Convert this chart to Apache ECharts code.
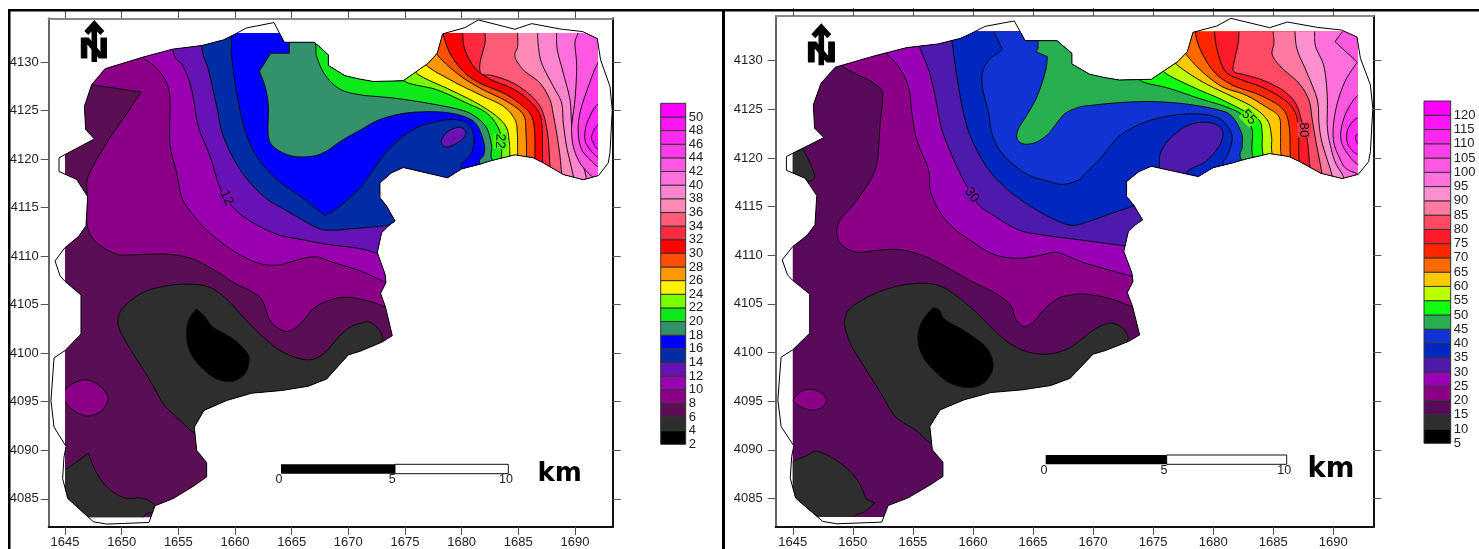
<!DOCTYPE html>
<html><head><meta charset="utf-8">
<style>html,body{margin:0;padding:0;background:#fff}#c{width:1479px;height:549px}</style>
<script src="https://cdn.jsdelivr.net/npm/echarts@6/dist/echarts.min.js"></script>
</head><body><div id="c"></div>
<script>
// Tick labels
const xTicks = [1645,1650,1655,1660,1665,1670,1675,1680,1685,1690];
const yTicks = [4085,4090,4095,4100,4105,4110,4115,4120,4125,4130];
// Legend levels and colours
const leftLevels = [2,4,6,8,10,12,14,16,18,20,22,24,26,28,30,32,34,36,38,40,42,44,46,48,50];
const leftColors = ['#000000','#2e2e2e','#5a0f55','#8b0087','#9a00b0','#6712b5','#002da3','#0000ff','#33926b','#0ee91a','#77ff00','#fff200','#ff9700','#ff4f00','#ff0000','#ff2a3e','#ff5c78','#ff8ab5','#ff85d0','#ff70dd','#ff57e0','#ff3ae8','#ff2af0','#ff16f5','#ff00ff'];
const rightLevels = [5,10,15,20,25,30,35,40,45,50,55,60,65,70,75,80,85,90,95,100,105,110,115,120];
const rightColors = ['#000000','#2e2e2e','#5a0a5a','#8b0087','#9a00b5','#4d1aad','#0028c0','#1233d4','#28b050','#10ff10','#bbff00','#ffc800','#ff6a00','#ff2600','#ff1a2a','#ff4a64','#ff7aa0','#ff90d0','#ff70dc','#ff58e0','#ff40e8','#ff28f0','#ff14f5','#ff00ff'];

// Survey boundary (km grid)
const outline = [[1648.53,4129.32],[1651.85,4130.51],[1654.5,4131.34],[1657.06,4131.71],[1658.97,4132.29],[1659.71,4132.71],[1661.03,4133.53],[1663.44,4134.08],[1664.35,4132.05],[1667,4132.05],[1668.24,4130.75],[1668.24,4129.66],[1669.71,4128.6],[1671.03,4128.25],[1672.2,4128.01],[1674.85,4128.08],[1677.06,4129.9],[1677.85,4130.92],[1678.32,4132.91],[1680.29,4133.56],[1681.47,4134.35],[1684.7,4133.39],[1686.18,4133.97],[1688.68,4133.42],[1690.68,4133.15],[1691.97,4132.43],[1692.26,4130.24],[1693.09,4127.5],[1693.29,4125.1],[1693.09,4120.65],[1692.94,4119.62],[1692.09,4118.32],[1690.74,4117.88],[1688.97,4118.42],[1687.2,4119.62],[1686.32,4120.14],[1684.7,4120.45],[1682.65,4119.86],[1681.62,4119.49],[1680,4119],[1678.76,4118.08],[1674.85,4119.14],[1673.82,4118.6],[1672.79,4117.57],[1672.79,4116.03],[1673.38,4115.17],[1674.12,4113.63],[1673.53,4113.12],[1672.94,4112.43],[1672.56,4110.38],[1673.24,4108.15],[1673.32,4107.29],[1672.85,4106.16],[1673.29,4104.72],[1673.88,4101.81],[1672.94,4101.13],[1671.03,4100.2],[1670,4099.83],[1668.09,4097.35],[1666.47,4096.6],[1664.12,4096.16],[1661.47,4095.88],[1659.26,4095.13],[1657.26,4094.1],[1656.41,4092.39],[1656.62,4090],[1657.5,4088.72],[1657.5,4087.25],[1656.32,4086.29],[1654.56,4085.03],[1652.94,4084.27],[1652.41,4082.56],[1648.68,4082.39],[1647.5,4082.63],[1645.24,4085.03],[1644.79,4087.08],[1644.91,4089.3],[1645.09,4090.4],[1644.03,4092.39],[1643.76,4095.13],[1644.03,4099.52],[1645,4100.27],[1646.41,4101.98],[1646.41,4106],[1645,4107.4],[1644.56,4107.98],[1644.12,4109.52],[1645,4110.89],[1646.18,4112.02],[1646.85,4113.12],[1647,4116.13],[1646.03,4117.91],[1644.47,4118.73],[1644.47,4120.14],[1645,4120.48],[1647.59,4122.09],[1646.82,4123.05],[1646.71,4125.45],[1647.35,4127.67]];

// Left map contours; a third entry 1 marks a sharp corner
const a8 = [[1647.35,4127.67,1],[1651.71,4126.92,1],[1650.29,4124.42],[1648.68,4121.68],[1647.06,4118.25],[1646.97,4116.2],[1646.97,4113.12],[1647.79,4111.4],[1649.56,4110.21],[1651.03,4110.14],[1653.97,4110.21],[1656.32,4109.69],[1658.53,4108.32],[1659.85,4107.29],[1662.21,4105.75],[1663.09,4103.36],[1664.41,4102.26],[1665.59,4102.84],[1667.06,4104.73],[1668.68,4105.58],[1670.15,4105.75],[1672.21,4105.24],[1673.29,4104.73],[1674.26,4104.38,1],[1710,4105.58,1],[1710,4138,1],[1646,4138,1],[1646.5,4127.9,1]];
const a10 = [[1651.5,4131.5,1],[1651.85,4130.51],[1653.09,4129.38],[1653.97,4127.84],[1654.26,4126.13],[1654.26,4121.68],[1654.85,4118.6],[1655.38,4115.86],[1656.62,4113.8],[1658.09,4112.09],[1659.85,4110.55],[1661.91,4109.35],[1663.68,4109.08],[1665.74,4109.69],[1666.76,4109.93],[1667.5,4109.86],[1668.68,4109.35],[1671.03,4108.49],[1673.32,4107.29],[1674.26,4106.95,1],[1710,4106.95,1],[1710,4138,1],[1651.5,4138,1]];
const a12 = [[1654.2,4138,1],[1654.5,4131.34],[1655.44,4129.55],[1656.18,4127.16],[1656.76,4123.39],[1657.79,4120.31],[1658.68,4117.05],[1659.71,4115.17],[1661.32,4113.63],[1663.68,4112.26],[1665.74,4111.75],[1668.09,4111.23],[1671.03,4110.79],[1672.65,4110.27],[1673.68,4110.03,1],[1710,4110.03,1],[1710,4138,1]];
const a14 = [[1657,4138,1],[1657.06,4131.71],[1657.65,4129.21],[1658.38,4125.45],[1658.97,4122.36],[1660.44,4118.94],[1662.5,4116.2],[1664.85,4114.49],[1667.21,4112.95],[1668.53,4112.67],[1670.44,4112.84],[1673.62,4113.18],[1674.56,4113.46,1],[1710,4113.46,1],[1710,4138,1]];
const a16 = [[1659.71,4138,1],[1659.71,4132.71],[1659.71,4130.58],[1660.15,4126.82],[1660.88,4123.05],[1661.91,4120.31],[1663.68,4117.91],[1665.74,4116.2],[1667.65,4114.49],[1668.09,4114.32],[1669.26,4115.17],[1671.03,4117.05],[1671.91,4118.42],[1673.38,4120.82],[1674.85,4122.36],[1676.32,4123.39],[1678.38,4124.01],[1679.85,4124.01],[1680.74,4123.39],[1681.09,4122.19],[1680.88,4120.65],[1680,4119.01],[1682.79,4117.23,1],[1710,4117.23,1],[1710,4138,1]];
const a18 = [[1664.79,4134.35,1],[1664.79,4132.05,1],[1664.79,4130.92,1],[1663.15,4130.92,1],[1662.15,4129.04,1],[1662.65,4127.5],[1662.94,4125.45],[1662.94,4122.36],[1663.53,4121.16],[1664.85,4120.38],[1666.32,4120.24],[1667.79,4120.65],[1669.56,4122.02],[1671.03,4122.98],[1672.79,4124.08],[1675.15,4124.76],[1678.09,4124.86],[1680.15,4124.42],[1681.32,4123.56],[1681.97,4121.68],[1681.97,4120.48],[1681.62,4119.49],[1683.38,4117.23,1],[1710,4117.23,1],[1710,4134.35,1]];
const a20 = [[1666.76,4133.32,1],[1667.12,4131.78],[1667.21,4130.58],[1667.94,4128.7],[1669.26,4127.23],[1671.03,4126.64],[1673.97,4126.3],[1676.91,4125.79],[1679.85,4125.1],[1681.18,4124.42],[1682.21,4123.22],[1682.65,4121.34],[1682.71,4119.9],[1684.26,4117.23,1],[1710,4117.23,1],[1710,4133.32,1]];
const a22 = [[1674.56,4134.35,1],[1674.56,4129.55,1],[1675,4128.01],[1677.79,4127.16],[1680.44,4125.79],[1682.21,4124.76],[1683.24,4123.22],[1683.53,4121.68],[1683.53,4120.14],[1683.68,4117.23,1],[1710,4117.23,1],[1710,4134.35,1]];
const a24 = [[1675.74,4134.35,1],[1675.74,4130.24,1],[1676.09,4128.8],[1678.97,4127.16],[1681.32,4125.79],[1683.09,4124.42],[1683.97,4123.22],[1684.21,4121.68],[1684.26,4120.45],[1684.4,4117.23,1],[1710,4117.23,1],[1710,4134.35,1]];
const a26 = [[1676.62,4134.35,1],[1676.62,4131.27,1],[1676.85,4129.73],[1679.26,4128.01],[1681.62,4126.64],[1683.68,4125.45],[1684.7,4124.08],[1684.91,4122.71],[1684.94,4120.45],[1685,4117.23,1],[1710,4117.23,1],[1710,4134.35,1]];
const a28 = [[1677.5,4134.35,1],[1677.5,4132.29,1],[1677.79,4130.86],[1679.56,4128.87],[1681.62,4127.33],[1683.97,4125.96],[1685.44,4124.59],[1685.68,4122.71],[1685.74,4120.24],[1685.9,4117.23,1],[1710,4117.23,1],[1710,4134.35,1]];
const a30 = [[1678.38,4134.35,1],[1678.38,4132.91],[1678.97,4130.92],[1680.15,4129.04],[1681.62,4127.84],[1683.97,4126.64],[1685.74,4125.1],[1686.32,4123.9],[1686.47,4122.02],[1686.47,4120.03],[1686.6,4117.23,1],[1710,4117.23,1],[1710,4134.35,1]];
const a32 = [[1680.09,4134.35,1],[1680.09,4132.98],[1680.29,4131.27],[1681.18,4129.38],[1682.5,4128.25],[1684.56,4127.23],[1686.03,4125.96],[1686.91,4124.59],[1687.12,4122.71],[1687.15,4119.62],[1687.35,4117.23,1],[1710,4117.23,1],[1710,4134.35,1]];
const a34 = [[1682.06,4134.35,1],[1682.06,4132.98],[1682.06,4131.95],[1681.62,4129.9],[1681.76,4128.8],[1682.79,4128.6],[1684.56,4127.84],[1686.03,4126.64],[1686.91,4125.45],[1687.35,4124.08],[1687.65,4122.02],[1687.79,4119.45],[1688.09,4117.23,1],[1710,4117.23,1],[1710,4134.35,1]];
const a36 = [[1684.94,4134.35,1],[1684.94,4132.98],[1684.94,4131.61],[1684.7,4130.58],[1685.44,4129.21],[1686.91,4127.84],[1687.79,4126.13],[1688.09,4124.59],[1688.38,4122.71],[1688.68,4120.31],[1688.82,4118.6],[1689.12,4115.86,1],[1710,4115.86,1],[1710,4134.35,1]];
const a38 = [[1686.71,4134.35,1],[1686.71,4132.98],[1686.76,4131.78],[1687.06,4129.9],[1688.09,4127.5],[1688.82,4125.79],[1688.97,4123.73],[1689.26,4121.34],[1689.85,4118.25],[1690.15,4115.86,1],[1710,4115.86,1],[1710,4134.35,1]];
const a40 = [[1688.38,4134.35,1],[1688.38,4132.98],[1688.44,4131.27],[1688.97,4128.87],[1689.56,4126.13],[1689.71,4123.73],[1690.15,4121.34],[1690.74,4119.28],[1691.03,4117.88],[1691.32,4115.86,1],[1710,4115.86,1],[1710,4134.35,1]];
const a42 = [[1690.24,4134.35,1],[1690.24,4132.98],[1690,4131.95],[1690.15,4129.55],[1690,4126.13],[1689.71,4123.39],[1689.85,4121.34],[1690.44,4119.62],[1691.47,4118.25],[1692.21,4117.91],[1693.68,4117.23,1],[1710,4117.23,1],[1710,4134.35,1]];
const a44 = [[1693.68,4132.98,1],[1692.06,4130],[1691.18,4127.5],[1690.44,4124.76],[1690.29,4122.71],[1690.59,4120.99],[1691.47,4119.79],[1692.06,4119.21],[1693.68,4118.25,1]];
const a46 = [[1693.68,4126.47,1],[1692.06,4125.72],[1691.18,4124.08],[1690.88,4122.71],[1691.03,4121.5],[1692.06,4120.14],[1693.68,4119.28,1]];
const a48 = [[1693.68,4124.42,1],[1692.06,4123.56],[1691.47,4122.36],[1691.62,4121.68],[1692.06,4121.03],[1693.68,4120.3,1]];
const aIsland = [[1678.24,4122.02],[1678.82,4122.88],[1679.85,4123.29],[1680.38,4122.71],[1679.85,4121.85],[1678.82,4121.27],[1678.32,4121.44]];
const aLow6 = [[1649.71,4103.7],[1650.29,4104.9],[1651.91,4106.27],[1653.97,4106.95],[1656.03,4107.12],[1657.79,4106.78],[1659.26,4105.58],[1660.74,4103.7],[1662.5,4101.64],[1664.26,4100.1],[1666.32,4099.32],[1667.79,4099.93],[1669.26,4101.82],[1670.15,4102.67],[1671.03,4103.08],[1671.91,4103.18],[1672.79,4102.33],[1673.03,4101.37],[1672.94,4100.96],[1674.56,4097.88,1],[1674.56,4091.03,1],[1658.09,4091.03,1],[1656.91,4092.05,1],[1656.41,4091.78],[1654.85,4093.42],[1653.68,4094.8],[1652.5,4097.19],[1651.03,4099.93],[1649.85,4102.33]];
const aLow4 = [[1656.62,4104.55,1],[1657.26,4103.87],[1658.09,4102.67],[1659.85,4101.47],[1661.03,4100.1],[1661.24,4099.08],[1660.74,4097.71],[1659.56,4097.09],[1658.09,4097.53],[1656.62,4099.08],[1655.88,4100.62],[1655.74,4102.33],[1656.03,4103.7]];
const aWest = [[1644.85,4095.65],[1645.29,4096.58],[1646.62,4097.26],[1647.79,4096.85],[1648.68,4095.82],[1648.74,4094.97],[1648.09,4093.94],[1646.91,4093.53],[1645.74,4094.11],[1645.06,4094.97]];
const aSouth = [[1644.56,4087.95,1],[1645,4088.01],[1646.03,4088.8],[1647.06,4089.73,1],[1647.65,4087.95],[1648.68,4086.23],[1650.15,4085.14],[1651.91,4085.03],[1652.94,4084.28],[1652.79,4083.66],[1651.97,4083.15],[1651.97,4080.5,1],[1644.56,4080.5,1]];

// Right map contours
const b20 = [[1648.81,4138,1],[1648.81,4131.1,1],[1649.08,4129.49],[1651.31,4128.01],[1652.28,4127.16],[1652.5,4126.3],[1652.28,4123.56],[1652,4119.45],[1651.31,4117.4],[1649.92,4115],[1648.94,4113.63],[1648.67,4112.26],[1649.08,4111.06],[1650.33,4110.31],[1652.42,4110.55],[1654.08,4110.55],[1656.03,4109.86],[1657.69,4108.84],[1658.94,4107.98],[1659.92,4107.29],[1661.86,4106.1],[1663.11,4104.9],[1663.53,4103.53],[1664.22,4102.67],[1665.06,4103.18],[1666.03,4104.55],[1667.14,4105.58],[1668.25,4105.93],[1669.36,4106],[1671.31,4105.58],[1673.25,4104.73],[1674.36,4104.4,1],[1712,4104.4,1],[1712,4138,1]];
const b25 = [[1652.42,4138,1],[1652.42,4132.12,1],[1652.78,4130.82],[1653.81,4129.38],[1654.64,4127.33],[1654.92,4124.59],[1655.33,4121.85],[1656.31,4118.77],[1656.44,4116.71],[1657.14,4114.66],[1658.25,4112.95],[1659.92,4111.4],[1661.86,4110.03],[1663.81,4109.69],[1665.75,4110.03],[1666.86,4110.31],[1667.97,4109.86],[1669.36,4109.18],[1671.31,4108.49],[1673.11,4107.88],[1674.36,4107.47,1],[1712,4107.47,1],[1712,4138,1]];
const b30 = [[1655.33,4138,1],[1655.33,4132.81,1],[1655.53,4131.44],[1656.31,4129.04],[1656.86,4126.3],[1657.42,4122.88],[1658.53,4119.45],[1659.5,4117.05],[1660.47,4115.17],[1661.86,4113.97],[1663.81,4112.6],[1665.75,4112.09],[1669.36,4111.5],[1672.64,4110.96],[1674.36,4110.72,1],[1712,4110.72,1],[1712,4138,1]];
const b35 = [[1658.25,4138,1],[1658.25,4133.49,1],[1658.25,4132.12],[1658.67,4128.36],[1659.22,4124.59],[1659.92,4121.85],[1661.31,4118.77],[1663.25,4116.37],[1665.75,4114.32],[1667.97,4113.12],[1669.36,4113.36],[1671.58,4114.32],[1673.47,4115.1],[1674.64,4115.58,1],[1712,4115.58,1],[1712,4138,1]];
const b40 = [[1661.72,4138,1],[1661.72,4133.05,1],[1662.42,4131.27,1],[1662.28,4130.92],[1661.31,4130.07],[1660.75,4128.53],[1660.89,4126.64],[1661.31,4124.59],[1661.58,4122.53],[1662.42,4120.48],[1664.36,4118.42],[1666.31,4117.57],[1667.56,4117.29],[1668.81,4117.74],[1669.36,4118.42],[1670.75,4120.14],[1672.14,4122.19],[1674.08,4123.56],[1676.31,4124.32],[1678.81,4124.52],[1680.47,4124.08],[1681.31,4123.05],[1681.58,4121.85],[1681.17,4120.14],[1680.97,4119.28],[1683.81,4116.71,1],[1712,4116.71,1],[1712,4138,1]];
const b45 = [[1665.42,4134.18,1],[1665.42,4132.05,1],[1665.42,4131.27,1],[1665.25,4130.92,1],[1666.19,4130.41,1],[1666.03,4128.87],[1665.33,4126.3],[1664.5,4124.42],[1663.81,4123.05],[1663.67,4122.02],[1664.22,4121.44],[1665.19,4121.58],[1666.17,4122.36],[1666.86,4123.39],[1667.69,4124.59],[1668.81,4125.21],[1669.36,4125.34],[1672.14,4125.68],[1674.92,4125.79],[1677.69,4125.55],[1680.47,4124.93],[1681.58,4124.25],[1682.36,4122.53],[1682.42,4121.16],[1682.36,4119.79],[1684.36,4116.71,1],[1712,4116.71,1],[1712,4134.18,1]];
const b50 = [[1673.53,4134.18,1],[1673.53,4129.38,1],[1673.94,4127.95],[1676.31,4127.16],[1678.81,4126.13],[1681.03,4125.27],[1682.42,4124.42],[1683.25,4122.88],[1683.33,4120.07],[1684.92,4116.71,1],[1712,4116.71,1],[1712,4134.18,1]];
const b55 = [[1675.47,4134.18,1],[1675.47,4130.07,1],[1675.97,4128.77],[1678.53,4127.16],[1680.47,4126.13],[1682.42,4124.93],[1683.81,4123.9],[1684.08,4122.53],[1684.17,4120.27],[1685.19,4116.71,1],[1712,4116.71,1],[1712,4134.18,1]];
const b60 = [[1676.31,4134.18,1],[1676.31,4131.1,1],[1676.92,4129.66],[1679.08,4127.84],[1681.31,4126.47],[1683.25,4125.27],[1684.5,4123.9],[1684.86,4122.19],[1684.92,4120.38],[1685.75,4116.71,1],[1712,4116.71,1],[1712,4134.18,1]];
const b65 = [[1677.14,4134.18,1],[1677.14,4132.12,1],[1677.69,4130.75],[1679.08,4128.87],[1680.75,4127.33],[1682.69,4126.47],[1684.36,4125.27],[1685.47,4124.25],[1685.61,4122.53],[1685.67,4120.21],[1686.3,4116.71,1],[1712,4116.71,1],[1712,4134.18,1]];
const b70 = [[1678.53,4134.18,1],[1678.53,4132.81],[1678.94,4131.1],[1680.06,4128.87],[1681.58,4127.5],[1683.53,4126.64],[1685.19,4125.62],[1686.03,4124.59],[1686.36,4122.88],[1686.42,4120.07],[1686.58,4116.71,1],[1712,4116.71,1],[1712,4134.18,1]];
const b75 = [[1680.11,4134.18,1],[1680.11,4132.98],[1680.33,4131.1],[1681.03,4128.87],[1682.42,4128.01],[1684.08,4127.26],[1685.75,4126.13],[1686.72,4124.93],[1687.08,4123.22],[1687.14,4119.79],[1687.28,4116.71,1],[1712,4116.71,1],[1712,4134.18,1]];
const b80 = [[1682.14,4134.18,1],[1682.14,4132.98],[1682.08,4131.78],[1681.72,4129.73],[1681.72,4128.87],[1682.69,4128.53],[1684.08,4128.01],[1685.75,4126.99],[1686.86,4125.62],[1687.42,4123.56],[1687.83,4121.85],[1688.03,4119.28],[1688.25,4116.71,1],[1712,4116.71,1],[1712,4134.18,1]];
const b85 = [[1685,4134.18,1],[1685,4132.98],[1685.06,4131.78],[1684.92,4130.58],[1685.75,4129.21],[1687.14,4127.67],[1687.97,4125.96],[1688.25,4123.9],[1688.53,4121.85],[1689.08,4118.25],[1689.36,4115.68,1],[1712,4115.68,1],[1712,4134.18,1]];
const b90 = [[1686.81,4134.18,1],[1686.81,4132.98],[1687,4131.1],[1687.83,4128.7],[1688.67,4125.96],[1688.81,4123.56],[1689.08,4121.5],[1689.92,4118.08],[1690.19,4115.68,1],[1712,4115.68,1],[1712,4134.18,1]];
const b95 = [[1688.44,4134.18,1],[1688.44,4132.98],[1688.53,4131.44],[1689.22,4129.4],[1689.5,4126.3],[1689.5,4123.22],[1689.78,4121.16],[1690.2,4119.45],[1690.89,4117.91],[1691.2,4115.68,1],[1712,4115.68,1],[1712,4134.18,1]];
const b100 = [[1690.75,4134.18,1],[1690.75,4132.98,1],[1690.14,4131.95,1],[1692,4129.83,1],[1691.03,4128.01],[1690.33,4125.62],[1690,4123.22],[1690.06,4121.5],[1690.47,4120.14],[1691.03,4118.94],[1692.14,4118.25],[1693.5,4117.06,1],[1712,4117.06,1],[1712,4134.18,1]];
const b105 = [[1693.5,4127,1],[1692.08,4126.47],[1691.11,4124.76],[1690.67,4123.05],[1690.67,4121.68],[1691.17,4120.48],[1692.08,4119.28],[1693.5,4118.8,1]];
const b110 = [[1693.5,4124.7,1],[1692.08,4124.18],[1691.31,4123.22],[1691.11,4122.19],[1691.31,4121.16],[1692.08,4120.31],[1693.5,4119.8,1]];
const b115 = [[1693.5,4122.8,1],[1692.08,4122.47],[1691.86,4122.12],[1691.94,4121.68],[1692.08,4121.5],[1693.5,4121.2,1]];
const bIsland = [[1675.53,4118.94],[1675.61,4120.48],[1676.31,4121.85],[1677.69,4123.22],[1679.08,4123.66],[1680.33,4123.39],[1680.81,4122.53],[1680.47,4121.16],[1679.36,4119.62],[1677.69,4118.36],[1677.69,4115.68,1],[1675.53,4115.68,1]];
const bLow10 = [[1649.36,4103.53],[1649.78,4104.55],[1651.31,4105.75],[1653.25,4106.68],[1655.47,4107.12],[1657.14,4106.88],[1658.53,4105.92],[1660.19,4104.21],[1661.86,4102.16],[1663.25,4100.79],[1664.64,4100.03],[1666.17,4099.83],[1667.69,4100.27],[1668.81,4101.13],[1670.06,4102.33],[1671.31,4103.01],[1672.28,4102.67],[1672.92,4101.64],[1672.83,4100.62],[1673.53,4097.71,1],[1673.53,4090.17,1],[1657.69,4090.17,1],[1656.86,4091.54,1],[1656.53,4090.68],[1655.19,4092.05],[1653.53,4093.42],[1652.42,4095.65],[1651.03,4098.39],[1649.92,4100.62],[1649.36,4102.5]];
const bLow5 = [[1656.64,4104.55,1],[1657.19,4104.38],[1657.69,4103.36],[1659.36,4102.16],[1661.03,4100.62],[1661.64,4099.08],[1661.53,4097.88],[1660.75,4096.75],[1659.5,4096.4],[1657.97,4096.95],[1656.58,4098.39],[1655.75,4099.76],[1655.42,4101.47],[1655.75,4103.18]];
const bWest = [[1645.06,4095.14],[1645.61,4095.92],[1646.44,4096.23],[1647.42,4095.82],[1647.78,4095.03],[1647.42,4094.35],[1646.64,4094.08],[1645.89,4094.28],[1645.19,4094.8]];
const bSouth = [[1644.64,4088.63,1],[1646.03,4089.32],[1647.06,4089.83],[1648.53,4088.97],[1649.78,4087.77],[1650.61,4086.4],[1651.08,4084.97,1],[1651.81,4084.52,1],[1651.03,4083.66],[1650.06,4082.98],[1650.06,4080.5,1],[1644.64,4080.5,1]];
const bNorthWest = [[1644.64,4120.41,1],[1645.81,4120.92,1],[1646.31,4119.79],[1646.81,4118.25],[1646.64,4117.74],[1646.17,4117.67],[1645.06,4118.5],[1644.64,4118.5,1]];

// Contour labels: x, y, text, rotation, local fill behind the text
const aLabels = [[1659.26,4116.03,'12',-65,'#800bb2'],[1683.38,4121.85,'22',-92,'#40f40c']];
const bLabels = [[1659.92,4116.2,'30',-55,'#750db1'],[1682.97,4124.18,'55',-45,'#60ff08'],[1687.56,4122.88,'80',-90,'#ff3552']];

const leftBands = [[a8,3],[a10,4],[a12,5],[a14,6],[a16,7],[a18,8],[a20,9],[a22,10],[a24,11],[a26,12],[a28,13],[a30,14],[a32,15],[a34,16],[a36,17],[a38,18],[a40,19],[a42,20],[a44,21],[a46,22],[a48,23],[aIsland,5],[aLow6,1],[aLow4,0],[aWest,3],[aSouth,1]];
const rightBands = [[b20,3],[b25,4],[b30,5],[b35,6],[b40,7],[b45,8],[b50,9],[b55,10],[b60,11],[b65,12],[b70,13],[b75,14],[b80,15],[b85,16],[b90,17],[b95,18],[b100,19],[b105,20],[b110,21],[b115,22],[bIsland,5],[bLow10,1],[bLow5,0],[bWest,3],[bSouth,1],[bNorthWest,1]];

// Clip the boundary to the gridded window with Sutherland-Hodgman
function clipToWindow(pts, x0, x1, y0, y1){
  const edges = [
    [p=>p[0]>=x0,(a,b)=>{const t=(x0-a[0])/(b[0]-a[0]);return [x0,a[1]+t*(b[1]-a[1])];}],
    [p=>p[0]<=x1,(a,b)=>{const t=(x1-a[0])/(b[0]-a[0]);return [x1,a[1]+t*(b[1]-a[1])];}],
    [p=>p[1]>=y0,(a,b)=>{const t=(y0-a[1])/(b[1]-a[1]);return [a[0]+t*(b[0]-a[0]),y0];}],
    [p=>p[1]<=y1,(a,b)=>{const t=(y1-a[1])/(b[1]-a[1]);return [a[0]+t*(b[0]-a[0]),y1];}]
  ];
  let out = pts;
  edges.forEach(([inside,cross])=>{
    const res=[];
    out.forEach((p,i)=>{
      const q=out[(i+1)%out.length];
      if(inside(p)){res.push(p); if(!inside(q)) res.push(cross(p,q));}
      else if(inside(q)) res.push(cross(p,q));
    });
    out=res;
  });
  return out;
}
const gridded = clipToWindow(outline,1645,1692.03,4083.1,4133);

// Smooth a closed contour in screen space; flagged vertices stay sharp
function smoothRing(pts, api){
  const P = pts.map(p=>api.coord([p[0],p[1]]));
  const n = P.length, out = [], tan = [];
  for(let i=0;i<n;i++){
    if(pts[i][2]){tan.push([0,0]);continue;}
    const a=P[(i-1+n)%n], b=P[(i+1)%n];
    tan.push([(b[0]-a[0])/6,(b[1]-a[1])/6]);
  }
  for(let i=0;i<n;i++){
    const j=(i+1)%n, p0=P[i], p3=P[j];
    const c1=[p0[0]+tan[i][0],p0[1]+tan[i][1]], c2=[p3[0]-tan[j][0],p3[1]-tan[j][1]];
    for(let s=0;s<12;s++){
      const t=s/12,u=1-t;
      out.push([u*u*u*p0[0]+3*u*u*t*c1[0]+3*u*t*t*c2[0]+t*t*t*p3[0],
                u*u*u*p0[1]+3*u*u*t*c1[1]+3*u*t*t*c2[1]+t*t*t*p3[1]]);
    }
  }
  return out;
}

function mapSeries(idx, bands, colors, labels){
  const maskItem = (api)=>gridded.map(p=>api.coord(p));
  return [
    {type:'custom',xAxisIndex:idx,yAxisIndex:idx,silent:true,animation:false,z:2,
     data:[[1650,4100]],
     renderItem:(params,api)=>({type:'polygon',shape:{points:maskItem(api)},style:{fill:colors[2],stroke:null}})},
    {type:'custom',xAxisIndex:idx,yAxisIndex:idx,silent:true,animation:false,z:3,
     data:bands.map(b=>[b[0][0][0],b[0][0][1]]),
     renderItem:(params,api)=>{
       const b=bands[params.dataIndex];
       return {type:'polygon',shape:{points:smoothRing(b[0],api)},
         style:{fill:colors[b[1]],stroke:'#0a0a0a',lineWidth:1},
         clipPath:{type:'polygon',shape:{points:maskItem(api)}}};
     }},
    {type:'custom',xAxisIndex:idx,yAxisIndex:idx,silent:true,animation:false,z:4,
     data:[[1650,4100]],
     renderItem:(params,api)=>({type:'polygon',shape:{points:outline.map(p=>api.coord(p))},style:{fill:null,stroke:'#000',lineWidth:1}})},
    {type:'custom',xAxisIndex:idx,yAxisIndex:idx,silent:true,animation:false,z:5,
     data:labels.map(l=>[l[0],l[1]]),
     renderItem:(params,api)=>{
       const l=labels[params.dataIndex], c=api.coord([l[0],l[1]]);
       return {type:'text',x:c[0],y:c[1],rotation:l[3]*Math.PI/180,
         style:{text:l[2],fill:'#111',font:'13.5px "Liberation Sans"',align:'center',verticalAlign:'middle',backgroundColor:l[4]}};
     }}
  ];
}
function legendSeries(idx, levels, colors, step){
  return {type:'custom',xAxisIndex:idx,yAxisIndex:idx,silent:true,animation:false,z:3,
    data:levels.map(v=>[0,v]),
    renderItem:(params,api)=>{
      const v=api.value(1), a=api.coord([0,v+step]), b=api.coord([1,v]);
      return {type:'rect',shape:{x:a[0],y:a[1],width:b[0]-a[0],height:b[1]-a[1]},
        style:{fill:colors[params.dataIndex],stroke:'#333',lineWidth:1}};
    }};
}

const tickFont = {color:'#222',fontFamily:'"Liberation Sans"',fontSize:13};
function xAxes(idx,min,max){
  const base={type:'value',min,max,gridIndex:idx,splitLine:{show:false},
    axisTick:{show:true,length:8,inside:false,lineStyle:{color:'#555',width:1},customValues:xTicks}};
  return [
    {...base,position:'bottom',axisLine:{show:true,onZero:false,lineStyle:{color:'#111',width:2}},
     axisLabel:{...tickFont,margin:9,customValues:xTicks,formatter:v=>String(v)}},
    {...base,position:'top',axisLine:{show:true,onZero:false,lineStyle:{color:'#888',width:2}},axisLabel:{show:false}}
  ];
}
function yAxes(idx,min,max,margin){
  const base={type:'value',min,max,gridIndex:idx,splitLine:{show:false},
    axisTick:{show:true,length:8,inside:false,lineStyle:{color:'#555',width:1},customValues:yTicks}};
  return [
    {...base,position:'left',axisLine:{show:true,onZero:false,lineStyle:{color:'#666',width:2}},
     axisLabel:{...tickFont,margin,customValues:yTicks,formatter:v=>String(v)}},
    {...base,position:'right',axisLine:{show:true,onZero:false,lineStyle:{color:'#111',width:2}},axisLabel:{show:false}}
  ];
}
function legendAxes(idx,min,max,step,levels){
  return {
    x:{type:'value',gridIndex:idx,min:0,max:1,show:false},
    y:{type:'value',gridIndex:idx,min,max,interval:step,position:'right',
       axisLine:{show:false},axisTick:{show:false},splitLine:{show:false},
       axisLabel:{...tickFont,margin:3,customValues:levels,formatter:v=>String(v)}}
  };
}
const la=legendAxes(4,2,52,2,leftLevels), ra=legendAxes(5,5,125,5,rightLevels);
// primary axes first so map series use indices 0 and 1
const xs=[xAxes(0,1643.56,1693.33)[0],xAxes(1,1643.58,1693.33)[0],xAxes(0,1643.56,1693.33)[1],xAxes(1,1643.58,1693.33)[1],la.x,ra.x];
const ys=[yAxes(0,4082.09,4134.52,10)[0],yAxes(1,4082.06,4134.59,13)[0],yAxes(0,4082.09,4134.52,10)[1],yAxes(1,4082.06,4134.59,13)[1],la.y,ra.y];
xs[4].gridIndex=2; ys[4].gridIndex=2; xs[5].gridIndex=3; ys[5].gridIndex=3;

function northArrow(cx, top, nLeft, nTop, scale){
  return [
    {type:'polygon',z:20,shape:{points:[[cx,top],[cx+10,top+11],[cx+6,top+15],[cx+2.8,top+11.5],[cx+2.8,top+42],[cx-2.8,top+42],[cx-2.8,top+11.5],[cx-6,top+15],[cx-10,top+11]]},style:{fill:'#000'}},
    {type:'text',z:20,x:nLeft,y:nTop,scaleX:scale,style:{text:'N',fill:'#000',stroke:'#000',lineWidth:0.8,font:'bold 30px "Liberation Sans"',align:'left',verticalAlign:'top'}}
  ];
}
function scaleBar(x0,x1,x2,y,h,ly,lab,kmX,kmY,kmSize){
  const t=(s,x)=>({type:'text',z:20,x,y:ly,style:{text:s,fill:'#222',font:'12.5px "Liberation Sans"',align:'center',verticalAlign:'middle'}});
  return [
    {type:'rect',z:20,shape:{x:x1,y,width:x2-x1,height:h},style:{fill:'#fff',stroke:'#111',lineWidth:1}},
    {type:'rect',z:20,shape:{x:x0,y,width:x1-x0,height:h},style:{fill:'#000'}},
    t('0',lab[0]),t('5',lab[1]),t('10',lab[2]),
    {type:'text',z:20,x:kmX,y:kmY,style:{text:'km',fill:'#000',font:'bold '+kmSize+'px "DejaVu Sans"',align:'left',verticalAlign:'bottom'}}
  ];
}
const frame=[
  {type:'rect',z:30,shape:{x:8.5,y:9,width:1471,height:2.5},style:{fill:'#000'}},
  {type:'rect',z:30,shape:{x:8,y:9,width:2.5,height:540},style:{fill:'#000'}},
  {type:'rect',z:30,shape:{x:722,y:9,width:3,height:540},style:{fill:'#000'}}
];

const chart=echarts.init(document.getElementById('c'),null,{renderer:'canvas'});
chart.setOption({
  backgroundColor:'#fff',animation:false,
  tooltip:{show:false},
  grid:[
    {left:48.7,top:18.3,width:564,height:509},
    {left:775.7,top:16,width:597.6,height:511.3},
    {left:660.7,top:103.3,width:25,height:341},
    {left:1424,top:101,width:26.7,height:342.3}
  ],
  xAxis:xs,yAxis:ys,
  series:[
    ...mapSeries(0,leftBands,leftColors,aLabels),
    ...mapSeries(1,rightBands,rightColors,bLabels),
    legendSeries(4,leftLevels,leftColors,2),
    legendSeries(5,rightLevels,rightColors,5)
  ],
  graphic:{elements:[
    ...frame,
    ...northArrow(94.3,20,78.5,35,1.42),
    ...northArrow(821.3,23.3,805.5,39,1.47),
    ...scaleBar(281,395,508.3,464.3,9.4,480,[279,392.3,506],537.5,487,26),
    ...scaleBar(1045.7,1166.7,1286.7,455,9.3,471,[1044,1164,1284.3],1307.5,484,27.5)
  ]}
});
</script></body></html>
